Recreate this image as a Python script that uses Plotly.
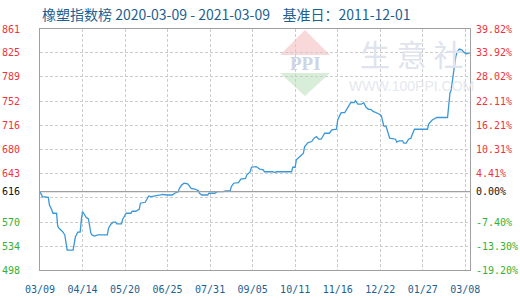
import pandas as pd
import plotly.graph_objects as go

# ---------------- data ----------------
start_date = "2020-03-09"
day_offsets = [0, 2, 7, 8, 10, 11, 14, 15, 16, 19, 21, 22, 23, 28, 29, 30, 32, 34, 35, 36,
               37, 39, 41, 43, 44, 46, 49, 57, 58, 60, 62, 64, 65, 69, 70, 73, 77, 78, 81, 84,
               85, 89, 91, 92, 94, 99, 102, 104, 107, 112, 114, 117, 118, 120, 122, 125, 128, 131, 134, 135,
               137, 142, 143, 148, 150, 155, 157, 161, 162, 164, 168, 170, 174, 175, 178, 179, 183, 186, 189, 190,
               197, 199, 200, 213, 214, 216, 217, 220, 222, 223, 224, 227, 230, 232, 234, 236, 238, 240, 241, 245,
               247, 251, 252, 254, 255, 258, 260, 262, 263, 266, 267, 269, 272, 274, 276, 278, 280, 282, 285, 287,
               289, 290, 291, 293, 294, 296, 301, 302, 304, 307, 308, 310, 312, 314, 315, 317, 328, 329, 332, 336,
               345, 346, 347, 348, 349, 350, 351, 352, 353, 354, 355, 357, 359, 361, 363, 364]
index_values = [616, 608.5, 607.6, 596, 588.5, 583.5, 583.5, 564, 561, 556, 550.8, 540.7, 528, 528, 538, 548, 555, 555, 573.4, 586,
                583.5, 577.5, 575, 554, 550.8, 549, 550.8, 550.8, 561, 567, 570, 570, 567.4, 567.4, 574.5, 583.5, 583.5, 586.5, 586.5, 589.5,
                598.6, 600, 606, 609.6, 608.5, 609.6, 611, 612, 611, 611, 613.6, 616, 621, 626, 628.7, 627.7, 621, 620, 617.6, 613.6,
                611, 611, 613.6, 613.6, 616, 616, 617, 617.6, 623.6, 628.7, 629.7, 634.8, 636, 641, 646, 652.8, 653.8, 650, 648.8, 646,
                646, 644.8, 646, 646, 652.8, 652.8, 664, 668.9, 671.4, 674, 684, 690, 691.5, 696.6, 699, 695, 695, 701.6, 704, 704,
                709, 710, 724, 731.7, 735, 735, 741.8, 746.8, 750, 750, 753, 747.7, 747.7, 750, 743, 740, 740, 737, 735, 733,
                730, 724, 715, 714, 706.6, 696.6, 695, 690.6, 692.5, 692.5, 689, 689, 695, 696.6, 701.6, 710, 710, 717.7, 724, 727.7,
                727.7, 745, 764, 769, 782, 797, 809.7, 819.7, 826, 829, 830.8, 829.7, 825.7, 823.7, 824.7, 825]

x_tick_dates = ["2020-03-09", "2020-04-14", "2020-05-20", "2020-06-25", "2020-07-31", "2020-09-05",
                "2020-10-11", "2020-11-16", "2020-12-22", "2021-01-27", "2021-03-04"]
x_tick_labels = ["03/09", "04/14", "05/20", "06/25", "07/31", "09/05",
                 "10/11", "11/16", "12/22", "01/27", "03/08"]
x_range = ["2020-03-09", "2021-03-08"]

base_value = 616
y_tick_values = [861, 825, 789, 752, 716, 680, 643, 616, 570, 534, 498]
y_tick_labels = ["861", "825", "789", "752", "716", "680", "643", "616", "570", "534", "498"]
pct_tick_labels = ["39.82%", "33.92%", "28.02%", "22.11%", "16.21%", "10.31%", "4.41%",
                   "0.00%", "-7.40%", "-13.30%", "-19.20%"]
extra_grid_value = 607
y_range = [498, 861]

title_text = "橡塑指数榜 2020-03-09 - 2021-03-09    基准日：2011-12-01"

# ---------------- styling ----------------
RED = "#f0323c"
GREEN = "#33b133"
BLACK = "#111111"
BLUE_TXT = "#1d5f92"
LINE = "#3a98d8"
GRID = "#cccccc"
AXIS = "#a0a0a0"


def colored(label, value):
    c = RED if value > base_value else (BLACK if value == base_value else GREEN)
    return f'<span style="color:{c}">{label}</span>'


dates = pd.Timestamp(start_date) + pd.to_timedelta(day_offsets, unit="D")

tv = y_tick_values + [extra_grid_value]
left_text = [colored(l, v) for l, v in zip(y_tick_labels, y_tick_values)] + [""]
right_text = [colored(l, v) for l, v in zip(pct_tick_labels, y_tick_values)] + [""]

fig = go.Figure()
fig.add_trace(go.Scatter(x=dates, y=index_values, mode="lines",
                         line=dict(color=LINE, width=1.3), hoverinfo="skip", showlegend=False))
fig.add_trace(go.Scatter(x=[dates[0]], y=[index_values[0]], yaxis="y2", mode="markers",
                         marker=dict(opacity=0), hoverinfo="skip", showlegend=False))

tickfont = dict(family="DejaVu Sans Mono", size=10)

fig.update_layout(
    width=520, height=300,
    margin=dict(l=40, r=50, t=29, b=30, autoexpand=False),
    paper_bgcolor="white", plot_bgcolor="white",
    xaxis=dict(type="date", range=x_range, tickvals=x_tick_dates, ticktext=x_tick_labels,
               showgrid=True, gridcolor=GRID, griddash="3px,2px", gridwidth=1,
               showline=True, linecolor=AXIS, linewidth=1, mirror=True,
               ticks="", ticklabelstandoff=10, automargin=False,
               tickfont=dict(family="DejaVu Sans Mono", size=10, color=BLUE_TXT),
               zeroline=False),
    yaxis=dict(range=y_range, tickvals=tv, ticktext=left_text,
               showgrid=True, gridcolor=GRID, griddash="3px,2px", gridwidth=1,
               showline=True, linecolor=AXIS, linewidth=1, mirror=True,
               ticks="", ticklabelstandoff=17, automargin=False,
               tickfont=tickfont, zeroline=False),
    yaxis2=dict(range=y_range, tickvals=tv, ticktext=right_text, overlaying="y", side="right",
                showgrid=False, showline=False, ticks="", ticklabelstandoff=5, automargin=False,
                tickfont=tickfont, zeroline=False),
)

# solid base line at 616
fig.add_shape(type="line", xref="paper", x0=0, x1=1, yref="y", y0=base_value, y1=base_value,
              line=dict(color=AXIS, width=1.2), layer="above")

# watermark (PPI logo + 生意社)
def px(x):
    return (x - 40) / 430


def py(y):
    return (270 - y) / 241


fig.add_shape(type="path", xref="paper", yref="paper", layer="below",
              path=f"M {px(305)} {py(30)} L {px(280)} {py(55)} L {px(330)} {py(55)} Z",
              fillcolor="#f8d8d8", line=dict(width=0))
fig.add_shape(type="path", xref="paper", yref="paper", layer="below",
              path=f"M {px(280)} {py(73)} L {px(330)} {py(73)} L {px(305)} {py(96)} Z",
              fillcolor="#d8eed8", line=dict(width=0))
wm = dict(xref="paper", yref="paper", xanchor="center", yanchor="middle", showarrow=False)
fig.add_annotation(text="<b>PPI</b>", x=px(305), y=py(63),
                   font=dict(family="Liberation Serif", size=19, color="#cdd4e4"), **wm)
fig.add_annotation(text="生 意 社", x=px(411), y=py(53),
                   font=dict(family="Noto Sans CJK SC", size=30, color="#dfe3ee"), **wm)
fig.add_annotation(text="WWW.100PPI.COM", x=px(411), y=py(86),
                   font=dict(family="Liberation Sans", size=14, color="#e6e8ee"), **wm)

# title
fig.add_annotation(text=title_text, xref="paper", yref="paper", x=0, y=py(14),
                   xanchor="left", yanchor="middle", showarrow=False,
                   font=dict(family="Noto Sans CJK SC", size=14, color=BLUE_TXT))

fig.write_html("out.html")
